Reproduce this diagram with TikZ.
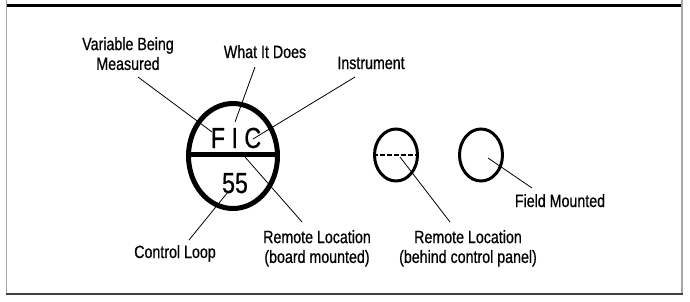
\documentclass[tikz,border=0pt]{standalone}
\usepackage{fontspec}
\setmainfont{Liberation Sans}[FakeStretch=0.8, FakeBold=0.6]
\usetikzlibrary{shapes.geometric}
\begin{document}
\begin{tikzpicture}[x=1pt,y=-1pt,
  lbl/.style={font=\fontsize{17.8}{19.8}\selectfont, inner sep=0pt, align=center},
  big/.style={font=\fontsize{29}{30}\selectfont, inner sep=0pt},
  leader/.style={line width=0.8pt},
  frame/.style={gray!70, line width=1.3pt},
  ring/.style={ellipse, draw, inner sep=0pt}]
\useasboundingbox (0,0) rectangle (690,301);
% frame
\draw[frame] (6.5,0) -- (6.5,294);
\draw[frame] (682,0) -- (682,294);
\draw[black!75, line width=1.5pt] (5.9,294) -- (682.6,294);
\draw[line width=3pt] (7,5) -- (681,5);
% instrument bubbles
\node[ring, line width=5pt, minimum width=89pt, minimum height=105pt] (bigc) at (233,156) {};
\draw[line width=5pt] ([yshift=2pt]bigc.west) -- ([yshift=2pt]bigc.east);
\node[big, anchor=base] (fic) at (236,148) {F I C};
\node[big, anchor=base] (num) at (235,193) {55};
\node[ring, line width=3pt, minimum width=43pt, minimum height=52pt] (rl) at (396,155) {};
\draw[line width=2.5pt, dash pattern=on 5pt off 2pt] (rl.west) -- (rl.east);
\node[ring, line width=3pt, minimum width=43pt, minimum height=52pt] (fm) at (481,155) {};
% labels
\node[lbl, anchor=north] (vbm) at (128,37) {Variable Being\\Measured};
\node[lbl, anchor=base] (wid) at (265,58) {What It Does};
\node[lbl, anchor=base] (ins) at (371,69) {Instrument};
\node[lbl, anchor=north] (rlb) at (317,230) {Remote Location\\(board mounted)};
\node[lbl, anchor=north] (rlp) at (468,230) {Remote Location\\(behind control panel)};
\node[lbl, anchor=base] (cl) at (175,258) {Control Loop};
\node[lbl, anchor=base] (fmd) at (560,207) {Field Mounted};
% leader ends
\coordinate (a1) at (138,77);  \coordinate (b1) at (212,132);
\coordinate (a2) at (255,67);  \coordinate (b2) at (235,122);
\coordinate (a3) at (355,77);  \coordinate (b3) at (253,139);
\coordinate (a4) at (189,240); \coordinate (b4) at (228,192);
\coordinate (a5) at (302,222); \coordinate (b5) at (245,157);
\coordinate (a6) at (450,222); \coordinate (b6) at (400,157);
\coordinate (a7) at (532,188); \coordinate (b7) at (488,158);
\draw[leader] (a1) -- (b1);
\draw[leader] (a2) -- (b2);
\draw[leader] (a3) -- (b3);
\draw[leader] (a4) -- (b4);
\draw[leader] (a5) -- (b5);
\draw[leader] (a6) -- (b6);
\draw[leader] (a7) -- (b7);
\end{tikzpicture}
\end{document}
